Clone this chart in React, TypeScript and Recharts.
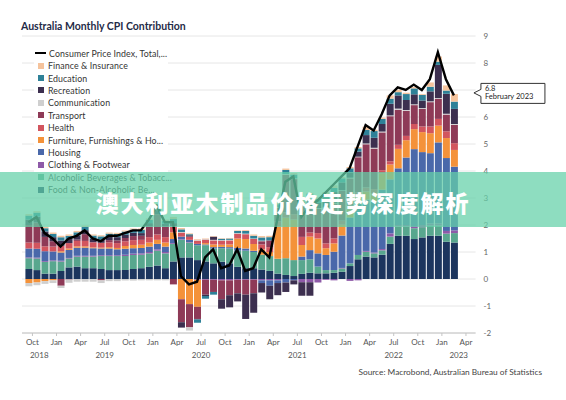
import React from "react";
import { ComposedChart, Bar, Line, XAxis, YAxis, CartesianGrid, LabelList } from "recharts";

// ========================================
// DATA (annual CPI change, contribution in percentage points)
// ========================================

const months = [
  "2018-09", "2018-10", "2018-11", "2018-12",
  "2019-01", "2019-02", "2019-03", "2019-04", "2019-05", "2019-06", "2019-07", "2019-08", "2019-09", "2019-10", "2019-11", "2019-12",
  "2020-01", "2020-02", "2020-03", "2020-04", "2020-05", "2020-06", "2020-07", "2020-08", "2020-09", "2020-10", "2020-11", "2020-12",
  "2021-01", "2021-02", "2021-03", "2021-04", "2021-05", "2021-06", "2021-07", "2021-08", "2021-09", "2021-10", "2021-11", "2021-12",
  "2022-01", "2022-02", "2022-03", "2022-04", "2022-05", "2022-06", "2022-07", "2022-08", "2022-09", "2022-10", "2022-11", "2022-12",
  "2023-01", "2023-02",
];

const cpiTotal = [
  2.1, 2.3, 1.7, 1.5,
  1.2, 1.5, 1.6, 1.8, 1.5, 1.4, 1.6, 1.6, 1.7, 1.8, 1.8, 2.2,
  2.7, 2.1, 2.1, 0.1, -0.2, -0.1, 0.8, 1.1, 0.4, 0.5, 1.1, 0.3,
  0.4, 1.1, 0.8, 2.2, 3.6, 3.8, 2.3, 2.7, 2.9, 3.2, 3.5, 3.8,
  4.1, 4.9, 5.7, 5.5, 6.1, 6.8, 7.1, 7.0, 7.2, 7.0, 7.4, 8.4,
  7.4, 6.8,
];

const food = [
  0.37, 0.33, 0.2, 0.2,
  0.3, 0.43, 0.46, 0.4, 0.4, 0.37, 0.33, 0.33, 0.33, 0.37, 0.4, 0.45,
  0.5, 0.4, 0.65, 0.8, 0.8, 0.7, 0.65, 0.58, 0.64, 0.58, 0.45, 0.4,
  0.4, 0.35, 0.3, 0.2, 0.15, 0.11, 0.19, 0.23, 0.21, 0.21, 0.23, 0.27,
  0.48, 0.73, 0.83, 0.8, 0.9, 1.3, 1.6, 1.6, 1.48, 1.54, 1.6, 1.6,
  1.38, 1.35,
];

const alcohol = [
  0.4, 0.43, 0.43, 0.46,
  0.35, 0.33, 0.37, 0.43, 0.43, 0.48, 0.52, 0.52, 0.52, 0.52, 0.5, 0.5,
  0.55, 0.55, 0.65, 0.65, 0.55, 0.55, 0.6, 0.55, 0.5, 0.55, 0.6, 0.65,
  0.6, 0.55, 0.55, 0.55, 0.62, 0.59, 0.51, 0.5, 0.25, 0.12, 0.1, 0.12,
  0.1, 0.16, 0.18, 0.15, 0.16, 0.27, 0.35, 0.35, 0.4, 0.38, 0.38, 0.38,
  0.3, 0.35,
];

const clothing = [
  0.03, 0.03, 0.03, 0.03,
  0.03, 0.02, 0.03, 0.03, 0.03, 0.03, 0.03, 0.03, 0.05, 0.05, 0.05, 0.05,
  0.05, 0.05, 0.03, 0.02, 0.02, -0.03, -0.03, -0.03, -0.05, -0.05, -0.03, -0.03,
  -0.03, -0.05, -0.05, -0.05, 0, 0, -0.12, -0.12, -0.13, -0.03, -0.05, 0.02,
  -0.07, -0.05, 0.03, 0.03, 0.05, 0.12, 0.05, 0.05, 0.08, 0.08, 0.08, 0.08,
  0.1, 0.1,
];

const housing = [
  0.33, 0.33, 0.37, 0.33,
  0.3, 0.3, 0.3, 0.3, 0.28, 0.25, 0.25, 0.22, 0.22, 0.2, 0.2, 0.2,
  0.2, 0.2, 0.15, 0.1, 0.08, 0.05, 0.03, 0.05, 0.05, 0.05, 0.1, 0.08,
  0.05, -0.1, -0.2, -0.1, -0.13, -0.05, 0.13, 0.34, 0.49, 0.56, 0.68, 1.2,
  1.7, 1.9, 1.9, 1.9, 2.2, 2.0, 2.1, 2.5, 2.85, 2.7, 2.6, 3.0,
  2.7, 2.36,
];

const furniture = [
  -0.15, -0.13, -0.08, -0.05,
  0.05, 0.05, 0.05, 0.05, 0.03, 0.03, 0.05, 0.05, 0.1, 0.12, 0.12, 0.15,
  0.15, 0.15, 0.25, -0.75, -0.93, -1.0, 0.05, 0.1, 0.08, 0.1, 0.35, 0.35,
  0.25, 0.2, 0.15, 1.2, 1.5, 1.5, 0.43, 0.5, 0.55, 0.25, 0.31, 0.4,
  0.3, 0.3, 0.3, 0.3, 0.6, 0.55, 0.72, 0.64, 0.74, 0.74, 0.74, 0.62,
  0.74, 0.62,
];

const health = [
  0.22, 0.22, 0.18, 0.18,
  0.2, 0.2, 0.2, 0.2, 0.18, 0.18, 0.18, 0.18, 0.18, 0.18, 0.18, 0.2,
  0.2, 0.2, 0.2, 0.15, 0.12, 0.12, 0.13, 0.15, 0.15, 0.15, 0.18, 0.18,
  0.18, 0.18, 0.18, 0.18, 0.2, 0.2, 0.3, 0.15, 0.2, 0.18, 0.18, 0.15,
  0.15, 0.12, 0.15, 0.15, 0.12, 0.12, 0.15, 0.16, 0.19, 0.21, 0.25, 0.25,
  0.25, 0.25,
];

const transport = [
  0.65, 0.75, 0.35, 0.2,
  -0.25, -0.02, 0.05, 0.25, 0.02, -0.05, 0.08, 0.1, 0.12, 0.15, 0.15, 0.4,
  0.75, 0.4, -0.2, -0.85, -0.86, -0.45, -0.55, -0.45, -0.7, -0.55, -0.5, -0.55,
  -0.5, 0.12, 0.25, 0.5, 1.4, 1.3, 1.14, 1.25, 0.9, 1.3, 1.3, 1.1,
  1.0, 1.3, 1.6, 1.5, 1.4, 1.67, 1.3, 0.93, 0.7, 0.65, 0.9, 0.74,
  0.62, 0.68,
];

const communication = [
  -0.12, -0.1, -0.1, -0.1,
  -0.08, -0.12, -0.1, -0.1, -0.1, -0.1, -0.08, -0.08, -0.06, -0.06, -0.05, -0.05,
  -0.05, -0.05, 0.02, 0.02, -0.12, 0.02, 0.02, 0.02, 0.02, 0.02, 0.02, 0.02,
  0.02, 0.02, 0, 0.02, 0.02, 0.02, 0.02, 0.02, 0.02, 0.02, 0.02, 0.02,
  0.02, 0.02, 0.03, 0.03, 0.03, 0.03, 0.04, 0.03, 0.03, 0.03, 0.03, 0.03,
  0.03, 0.03,
];

const recreation = [
  0.2, 0.22, 0.2, 0.15,
  0.2, 0.15, 0.15, 0.15, 0.12, 0.12, 0.12, 0.12, 0.12, 0.12, 0.1, 0.12,
  0.15, 0.1, 0.12, -0.2, 0.05, -0.02, -0.05, 0.12, -0.35, -0.45, -0.3, -0.9,
  -0.72, -0.35, -0.5, -0.45, -0.35, -0.15, -0.5, -0.5, 0.2, 0.35, 0.4, 0.3,
  0.2, 0.19, 0.31, 0.37, 0.28, 0.43, 0.49, 0.37, 0.37, 0.28, 0.37, 1.23,
  0.74, 0.56,
];

const education = [
  0.15, 0.15, 0.12, 0.12,
  0.12, 0.12, 0.12, 0.12, 0.12, 0.12, 0.12, 0.12, 0.12, 0.12, 0.12, 0.12,
  0.15, 0.1, 0.15, 0.1, 0.04, -0.12, -0.1, -0.1, 0.05, 0.05, 0.08, 0.1,
  0.1, 0.12, 0.12, 0.12, 0.15, 0.15, 0.15, 0.15, 0.15, 0.15, 0.15, 0.15,
  0.15, 0.12, 0.19, 0.25, 0.19, 0.19, 0.12, 0.22, 0.22, 0.21, 0.17, 0.12,
  0.12, 0.27,
];

const finance = [
  0.05, 0.05, 0.05, 0.05,
  0.05, 0.05, 0.05, 0.05, 0.04, 0.04, 0.04, 0.04, 0.04, 0.04, 0.05, 0.05,
  0.08, 0.05, 0.08, 0.05, 0.03, 0.03, 0.02, 0.02, 0.02, 0.02, 0.02, 0.03,
  0.05, 0.05, 0.05, 0.05, 0.05, 0.05, 0.05, 0.05, 0.05, 0.08, 0.1, 0.05,
  0.05, 0.05, 0.12, 0.05, 0.05, 0.12, 0.09, 0.05, 0.05, 0.03, 0.16, 0.19,
  0.19, 0.28,
];

const xTickMonths = [
  "2018-10", "2019-01", "2019-04", "2019-07", "2019-10", "2020-01", "2020-04", "2020-07", "2020-10",
  "2021-01", "2021-04", "2021-07", "2021-10", "2022-01", "2022-04", "2022-07", "2022-10", "2023-01", "2023-04",
];
const yearLabels = ["2018", "2019", "2020", "2021", "2022", "2023"];
const yTicks = [-2, -1, 0, 1, 2, 3, 4, 5, 6, 7, 8, 9];
const shortMonthNames = ["Jan", "Feb", "Mar", "Apr", "May", "Jun", "Jul", "Aug", "Sep", "Oct", "Nov", "Dec"];
const fullMonthNames = [
  "January", "February", "March", "April", "May", "June",
  "July", "August", "September", "October", "November", "December",
];

// stack order: first entry sits next to zero
const stackSeries = [
  { key: "food", label: "Food & Non-Alcoholic Be...", color: "#1c355e", values: food },
  { key: "alcohol", label: "Alcoholic Beverages & Tobacc...", color: "#58a78e", values: alcohol },
  { key: "clothing", label: "Clothing & Footwear", color: "#8e5aa8", values: clothing },
  { key: "housing", label: "Housing", color: "#4a68aa", values: housing },
  { key: "furniture", label: "Furniture, Furnishings & Ho...", color: "#f4923a", values: furniture },
  { key: "health", label: "Health", color: "#d2555e", values: health },
  { key: "transport", label: "Transport", color: "#8e3a57", values: transport },
  { key: "communication", label: "Communication", color: "#cfcfcf", values: communication },
  { key: "recreation", label: "Recreation", color: "#3c2f4f", values: recreation },
  { key: "education", label: "Education", color: "#2e8198", values: education },
  { key: "finance", label: "Finance & Insurance", color: "#f5c39c", values: finance },
];

// ========================================
// HELPERS
// ========================================

const FONT = "Lato, 'Open Sans', sans-serif";
const X_DOMAIN: [number, number] = [-0.3, 56.2];

function monthIndex(ym: string): number {
  const [y, m] = ym.split("-").map(Number);
  return (y - 2018) * 12 + (m - 9);
}

function monthLabel(ym: string): string {
  return shortMonthNames[Number(ym.split("-")[1]) - 1];
}

function longMonthLabel(ym: string): string {
  const [y, m] = ym.split("-");
  return `${fullMonthNames[Number(m) - 1]} ${y}`;
}

const chartData = months.map((m, i) => {
  const row: Record<string, number | string> = { x: monthIndex(m) + 0.5, month: m, cpi: cpiTotal[i] };
  stackSeries.forEach((s) => {
    row[s.key] = s.values[i];
  });
  return row;
});

const xTicks = xTickMonths.map(monthIndex);

// each year label sits in the middle of the part of that year that is on the axis
const yearCenters = yearLabels.map((y) => {
  const start = Math.max(X_DOMAIN[0], monthIndex(`${y}-01`));
  const end = Math.min(X_DOMAIN[1], monthIndex(`${Number(y) + 1}-01`));
  return (start + end) / 2;
});

// ========================================
// CALLOUT ON LAST POINT
// ========================================

function LastValueCallout(props: any) {
  const { x, y, index, value } = props;
  if (index !== months.length - 1 || x == null || y == null) return null;
  const bx = x + 27;
  const top = y - 12;
  const w = 64;
  const h = 20;
  const path = `M${bx},${top} H${bx + w} V${top + h} H${bx} V${y + 1} L${bx - 7},${y - 2.5} L${bx},${y - 6} Z`;
  return (
    <g>
      <path d={path} fill="#fff" stroke="#333" strokeWidth={1} />
      <text x={bx + 4} y={top + 7.5} fontSize={7.5} fill="#222" fontFamily={FONT}>
        {Number(value).toFixed(1)}
      </text>
      <text x={bx + 4} y={top + 16} fontSize={7.5} fill="#222" fontFamily={FONT}>
        {longMonthLabel(months[index])}
      </text>
    </g>
  );
}

// ========================================
// LEGEND
// ========================================

function ChartLegend() {
  const items = [...stackSeries].reverse();
  const rowH = 12.4;
  return (
    <div
      style={{
        position: "absolute",
        left: 34,
        top: 46,
        width: 134,
        height: 150,
        background: "#fff",
        fontFamily: FONT,
        fontSize: 8.8,
        letterSpacing: 0.1,
        color: "#333",
      }}
    >
      <div style={{ position: "absolute", top: 7.3 - rowH / 2, height: rowH, display: "flex", alignItems: "center" }}>
        <div style={{ width: 11, height: 2, background: "#000", marginLeft: 1, marginRight: 3 }} />
        <span style={{ whiteSpace: "nowrap" }}>Consumer Price Index, Total,...</span>
      </div>
      {items.map((s, k) => (
        <div
          key={s.key}
          style={{
            position: "absolute",
            top: 7.3 + rowH * (k + 1) - rowH / 2,
            height: rowH,
            display: "flex",
            alignItems: "center",
          }}
        >
          <div style={{ width: 6, height: 6, background: s.color, marginLeft: 4, marginRight: 4 }} />
          <span style={{ whiteSpace: "nowrap" }}>{s.label}</span>
        </div>
      ))}
    </div>
  );
}

// ========================================
// APP
// ========================================

export default function App() {
  return (
    <div
      style={{
        position: "absolute",
        left: 0,
        top: 0,
        width: 566,
        height: 400,
        background: "#fff",
        overflow: "hidden",
        fontFamily: FONT,
      }}
    >
      <div
        style={{
          position: "absolute",
          left: 21,
          top: 20,
          fontSize: 10.5,
          fontWeight: 700,
          color: "#1f2b47",
          whiteSpace: "nowrap",
        }}
      >
        Australia Monthly CPI Contribution
      </div>

      <div style={{ position: "absolute", left: 0, top: 0 }}>
        <ComposedChart
          width={566}
          height={400}
          data={chartData}
          stackOffset="sign"
          margin={{ top: 36, right: 30.4, bottom: 39, left: 22 }}
        >
          <CartesianGrid horizontal vertical={false} stroke="#e6e6e6" />
          <XAxis
            type="number"
            dataKey="x"
            domain={X_DOMAIN}
            ticks={xTicks}
            interval={0}
            tickFormatter={(v: number) => monthLabel(xTickMonths[xTicks.indexOf(v)] ?? "2018-01")}
            height={14}
            axisLine={{ stroke: "#c4c4c4" }}
            tickLine={{ stroke: "#c4c4c4" }}
            tickSize={3}
            tickMargin={3}
            tick={{ fontSize: 8, fill: "#555", fontFamily: FONT }}
          />
          <XAxis
            xAxisId="years"
            type="number"
            dataKey="x"
            domain={X_DOMAIN}
            ticks={yearCenters}
            interval={0}
            tickFormatter={(v: number) => yearLabels[yearCenters.indexOf(v)] ?? ""}
            height={14}
            axisLine={false}
            tickLine={false}
            tickSize={0}
            tickMargin={5}
            tick={{ fontSize: 8, fill: "#555", fontFamily: FONT }}
          />
          <YAxis
            orientation="right"
            domain={[-2, 9]}
            ticks={yTicks}
            interval={0}
            width={60}
            axisLine={false}
            tickLine={false}
            tick={{ fontSize: 8, fill: "#666", fontFamily: FONT }}
          />
          {stackSeries.map((s) => (
            <Bar
              key={s.key}
              dataKey={s.key}
              stackId="cpi"
              fill={s.color}
              barSize={7}
              isAnimationActive={false}
            />
          ))}
          <Line
            dataKey="cpi"
            type="linear"
            stroke="#000"
            strokeWidth={2.4}
            dot={false}
            activeDot={false}
            isAnimationActive={false}
          >
            <LabelList dataKey="cpi" content={<LastValueCallout />} />
          </Line>
        </ComposedChart>
      </div>

      <ChartLegend />

      <div
        style={{
          position: "absolute",
          left: 0,
          top: 172,
          width: 566,
          height: 55,
          background: "rgba(100, 208, 169, 0.73)",
          display: "flex",
          alignItems: "center",
          justifyContent: "center",
          paddingTop: 4,
          boxSizing: "border-box",
          color: "#fff",
          fontFamily: "'Noto Sans CJK SC', sans-serif",
          fontWeight: 900,
          fontSize: 23,
          letterSpacing: 2,
        }}
      >
        澳大利亚木制品价格走势深度解析
      </div>

      <div
        style={{
          position: "absolute",
          right: 24,
          top: 367,
          fontSize: 8.3,
          color: "#444",
          whiteSpace: "nowrap",
        }}
      >
        Source: Macrobond, Australian Bureau of Statistics
      </div>
    </div>
  );
}
